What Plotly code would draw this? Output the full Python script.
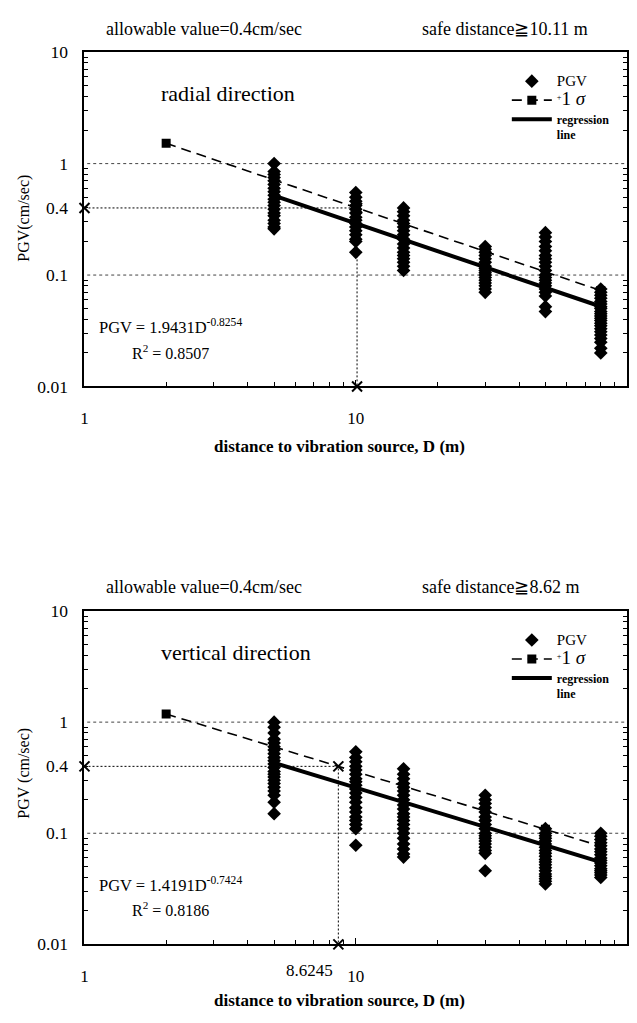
import math
import plotly.graph_objects as go

FONT = "Liberation Serif, Times New Roman, serif"

# ---------------- data ----------------
ALLOWABLE = 0.4

# radial direction : PGV (cm/sec) at each distance D (m)
rad_d5 = [1.0, 0.85, 0.8, 0.75, 0.7, 0.65, 0.6, 0.56, 0.52, 0.48, 0.45, 0.42, 0.39, 0.36, 0.34, 0.31, 0.29, 0.27, 0.26]
rad_d10 = [0.55, 0.5, 0.46, 0.42, 0.39, 0.36, 0.33, 0.31, 0.29, 0.27, 0.25, 0.23, 0.21, 0.2, 0.16]
rad_d15 = [0.4, 0.37, 0.34, 0.31, 0.29, 0.27, 0.25, 0.23, 0.21, 0.19, 0.175, 0.16, 0.15, 0.14, 0.13, 0.12, 0.11]
rad_d30 = [0.18, 0.17, 0.16, 0.15, 0.14, 0.13, 0.12, 0.115, 0.11, 0.105, 0.1, 0.095, 0.09, 0.085, 0.08, 0.075, 0.07]
rad_d50 = [0.24, 0.22, 0.2, 0.18, 0.165, 0.15, 0.14, 0.13, 0.12, 0.11, 0.1, 0.095, 0.09, 0.085, 0.08, 0.075, 0.07, 0.065, 0.052, 0.047]
rad_d80 = [0.075, 0.07, 0.066, 0.062, 0.058, 0.055, 0.052, 0.05, 0.047, 0.045, 0.043, 0.041, 0.039, 0.037, 0.035, 0.033, 0.031, 0.029, 0.027, 0.025, 0.022, 0.02]
rad_sigma_d = [2, 5, 10, 15, 30, 50, 80]
rad_sigma_v = [1.52, 0.715, 0.403, 0.289, 0.163, 0.107, 0.0725]
rad_reg_d = [5, 80]
rad_reg_v = [0.515, 0.0522]
rad_safe = 10.11

# vertical direction
ver_d5 = [1.0, 0.9, 0.8, 0.7, 0.65, 0.6, 0.56, 0.52, 0.48, 0.45, 0.42, 0.39, 0.36, 0.34, 0.32, 0.3, 0.28, 0.26, 0.24, 0.22, 0.19, 0.15]
ver_d10 = [0.54, 0.48, 0.44, 0.4, 0.37, 0.34, 0.31, 0.29, 0.27, 0.25, 0.23, 0.21, 0.19, 0.17, 0.155, 0.14, 0.13, 0.12, 0.11, 0.078]
ver_d15 = [0.38, 0.34, 0.31, 0.28, 0.26, 0.24, 0.22, 0.2, 0.18, 0.165, 0.15, 0.14, 0.13, 0.12, 0.11, 0.1, 0.09, 0.08, 0.072, 0.065, 0.061]
ver_d30 = [0.22, 0.2, 0.185, 0.17, 0.155, 0.14, 0.13, 0.12, 0.11, 0.1, 0.095, 0.09, 0.085, 0.08, 0.075, 0.07, 0.066, 0.046]
ver_d50 = [0.11, 0.1, 0.095, 0.09, 0.085, 0.08, 0.075, 0.07, 0.066, 0.062, 0.058, 0.055, 0.052, 0.049, 0.046, 0.043, 0.041, 0.039, 0.037, 0.035]
ver_d80 = [0.1, 0.094, 0.088, 0.082, 0.077, 0.072, 0.068, 0.064, 0.06, 0.057, 0.054, 0.051, 0.048, 0.046, 0.044, 0.042, 0.04]
ver_sigma_d = [2, 5, 10, 15, 30, 50, 80]
ver_sigma_v = [1.183, 0.6, 0.358, 0.265, 0.158, 0.1085, 0.0765]
ver_reg_d = [5, 80]
ver_reg_v = [0.43, 0.055]
ver_safe = 8.6245

DIST = [5, 10, 15, 30, 50, 80]

Y_TICKS = [0.01, 0.1, 0.4, 1, 10]
Y_TICK_TEXT = ["0.01", "0.1", "0.4", "1", "10"]
X_TICKS = [1, 10, 100]
X_TICK_TEXT = ["1", "10", "100"]
GRID_Y = [1, 0.1]

W, H = 637, 1023


def px(v):
    return v / W


def py(v):
    return 1 - v / H


panels = [
    dict(xa="x", ya="y", leg="legend",
         cols=[rad_d5, rad_d10, rad_d15, rad_d30, rad_d50, rad_d80],
         sd=rad_sigma_d, sv=rad_sigma_v, rd=rad_reg_d, rv=rad_reg_v, safe=rad_safe),
    dict(xa="x2", ya="y2", leg="legend2",
         cols=[ver_d5, ver_d10, ver_d15, ver_d30, ver_d50, ver_d80],
         sd=ver_sigma_d, sv=ver_sigma_v, rd=ver_reg_d, rv=ver_reg_v, safe=ver_safe),
]

fig = go.Figure()
for p in panels:
    # allowable-value guide lines
    fig.add_trace(go.Scatter(
        x=[1, p["safe"], p["safe"]], y=[ALLOWABLE, ALLOWABLE, 0.01],
        mode="lines", line=dict(color="black", width=1, dash="2px,2px"),
        xaxis=p["xa"], yaxis=p["ya"], showlegend=False, hoverinfo="skip"))
    # +1 sigma
    fig.add_trace(go.Scatter(
        x=p["sd"], y=p["sv"], mode="lines+markers",
        line=dict(color="black", width=1.6, dash="10px,6px"),
        marker=dict(symbol="square", size=9, color="black"),
        name="<sup>+</sup><span style='font-size:19px'>1 <i>σ</i></span>",
        legendrank=2, legend=p["leg"], xaxis=p["xa"], yaxis=p["ya"]))
    # regression
    fig.add_trace(go.Scatter(
        x=p["rd"], y=p["rv"], mode="lines",
        line=dict(color="black", width=4),
        name="<b>regression<br>line</b>",
        legendrank=3, legend=p["leg"], xaxis=p["xa"], yaxis=p["ya"]))
    # PGV observations
    xs, ys = [], []
    for d, col in zip(DIST, p["cols"]):
        xs += [d] * len(col)
        ys += col
    fig.add_trace(go.Scatter(
        x=xs, y=ys, mode="markers",
        marker=dict(symbol="diamond", size=10.5, color="black"),
        name="<span style='font-size:15px'>PGV</span>", legendrank=1, legend=p["leg"],
        xaxis=p["xa"], yaxis=p["ya"]))
    # x marks
    fig.add_trace(go.Scatter(
        x=[1, p["safe"], p["safe"]], y=[ALLOWABLE, ALLOWABLE, 0.01],
        mode="markers", cliponaxis=False,
        marker=dict(symbol="x-thin", size=10, line=dict(color="black", width=2)),
        xaxis=p["xa"], yaxis=p["ya"], showlegend=False, hoverinfo="skip"))

minor_x = [m * 10 ** e for e in range(0, 2) for m in range(2, 10)]
minor_y = [m * 10 ** e for e in range(-2, 1) for m in range(2, 10)]

xdom = [px(81), px(627)]
ydoms = [[py(384), py(43)], [py(953), py(613)]]

common_x = dict(type="log", range=[0, 2], domain=xdom, showgrid=False, zeroline=False,
                showline=True, linecolor="black", linewidth=2, mirror=True,
                ticks="inside", ticklen=6, tickcolor="black", tickwidth=1,
                tickfont=dict(family=FONT, size=17, color="black"), ticklabelstandoff=15,
                minor=dict(tickmode="array", tickvals=minor_x, ticks="inside", ticklen=4,
                           tickcolor="black", showgrid=False))
common_y = dict(type="log", range=[-2, 1], showgrid=False, zeroline=False,
                showline=True, linecolor="black", linewidth=2, mirror="ticks",
                ticks="inside", ticklen=0, tickcolor="black",
                tickvals=Y_TICKS, ticktext=Y_TICK_TEXT,
                tickfont=dict(family=FONT, size=17.5, color="black"), ticklabelstandoff=11,
                minor=dict(tickmode="array", tickvals=minor_y, ticks="inside", ticklen=4,
                           tickcolor="black", showgrid=False))

legend_common = dict(xanchor="left", yanchor="top", bgcolor="rgba(0,0,0,0)",
                     font=dict(family=FONT, size=12, color="black"), tracegroupgap=0,
                     traceorder="normal", itemwidth=40, valign="top")

fig.update_layout(
    width=W, height=H, margin=dict(l=0, r=0, t=0, b=0),
    paper_bgcolor="white", plot_bgcolor="white",
    font=dict(family=FONT, color="black"),
    xaxis=dict(common_x, anchor="y", tickvals=X_TICKS, ticktext=X_TICK_TEXT),
    yaxis=dict(common_y, anchor="x", domain=ydoms[0]),
    xaxis2=dict(common_x, anchor="y2", tickvals=X_TICKS, ticktext=X_TICK_TEXT),
    yaxis2=dict(common_y, anchor="x2", domain=ydoms[1]),
    legend=dict(legend_common, x=px(506), y=py(58)),
    legend2=dict(legend_common, x=px(506), y=py(628)),
    showlegend=True,
)

shapes = []
for ya in ["y", "y2"]:
    for g in GRID_Y:
        shapes.append(dict(type="line", xref=("x" if ya == "y" else "x2") + " domain", yref=ya,
                           x0=0.005, x1=0.995, y0=g, y1=g, layer="below",
                           line=dict(color="#444", width=1, dash="dot")))
fig.update_layout(shapes=shapes)

ann = []


def text(x, y, s, size=14, anchor="left", **kw):
    ann.append(dict(x=x, y=y, xref="paper", yref="paper", text=s, showarrow=False,
                    xanchor=anchor, yanchor="middle",
                    font=dict(family=FONT, size=size, color="black"), **kw))


xc = 338
# top panel
text(px(101), py(19), "allowable value=0.4cm/sec", 18)
text(px(419), py(19), "safe distance≧10.11 m", 18)
text(px(156), py(85), "radial direction", 22)
text(px(94), py(323), "PGV = 1.9431D<sup>-0.8254</sup>", 16.5)
text(px(127), py(349), "R<sup>2</sup> = 0.8507", 16)
text(px(20), py(212), "PGV(cm/sec)", 16, anchor="center", textangle=-90)
text(px(xc), py(445), "<b>distance to vibration source, D (m)</b>", 17, anchor="center")
# bottom panel
text(px(101), py(589), "allowable value=0.4cm/sec", 18)
text(px(419), py(589), "safe distance≧8.62 m", 18)
text(px(156), py(655), "vertical direction", 22)
text(px(94), py(892), "PGV = 1.4191D<sup>-0.7424</sup>", 16.5)
text(px(127), py(917), "R<sup>2</sup> = 0.8186", 16)
text(px(20), py(778), "PGV (cm/sec)", 16, anchor="center", textangle=-90)
text(px(xc), py(1010), "<b>distance to vibration source, D (m)</b>", 17, anchor="center")
ann.append(dict(x=math.log10(ver_safe), y=0, xref="x2", yref="y2 domain", text="8.6245",
                showarrow=False, xanchor="right", yanchor="top", xshift=-3, yshift=-15,
                font=dict(family=FONT, size=17, color="black")))
fig.update_layout(annotations=ann)

fig.write_html("out.html")
